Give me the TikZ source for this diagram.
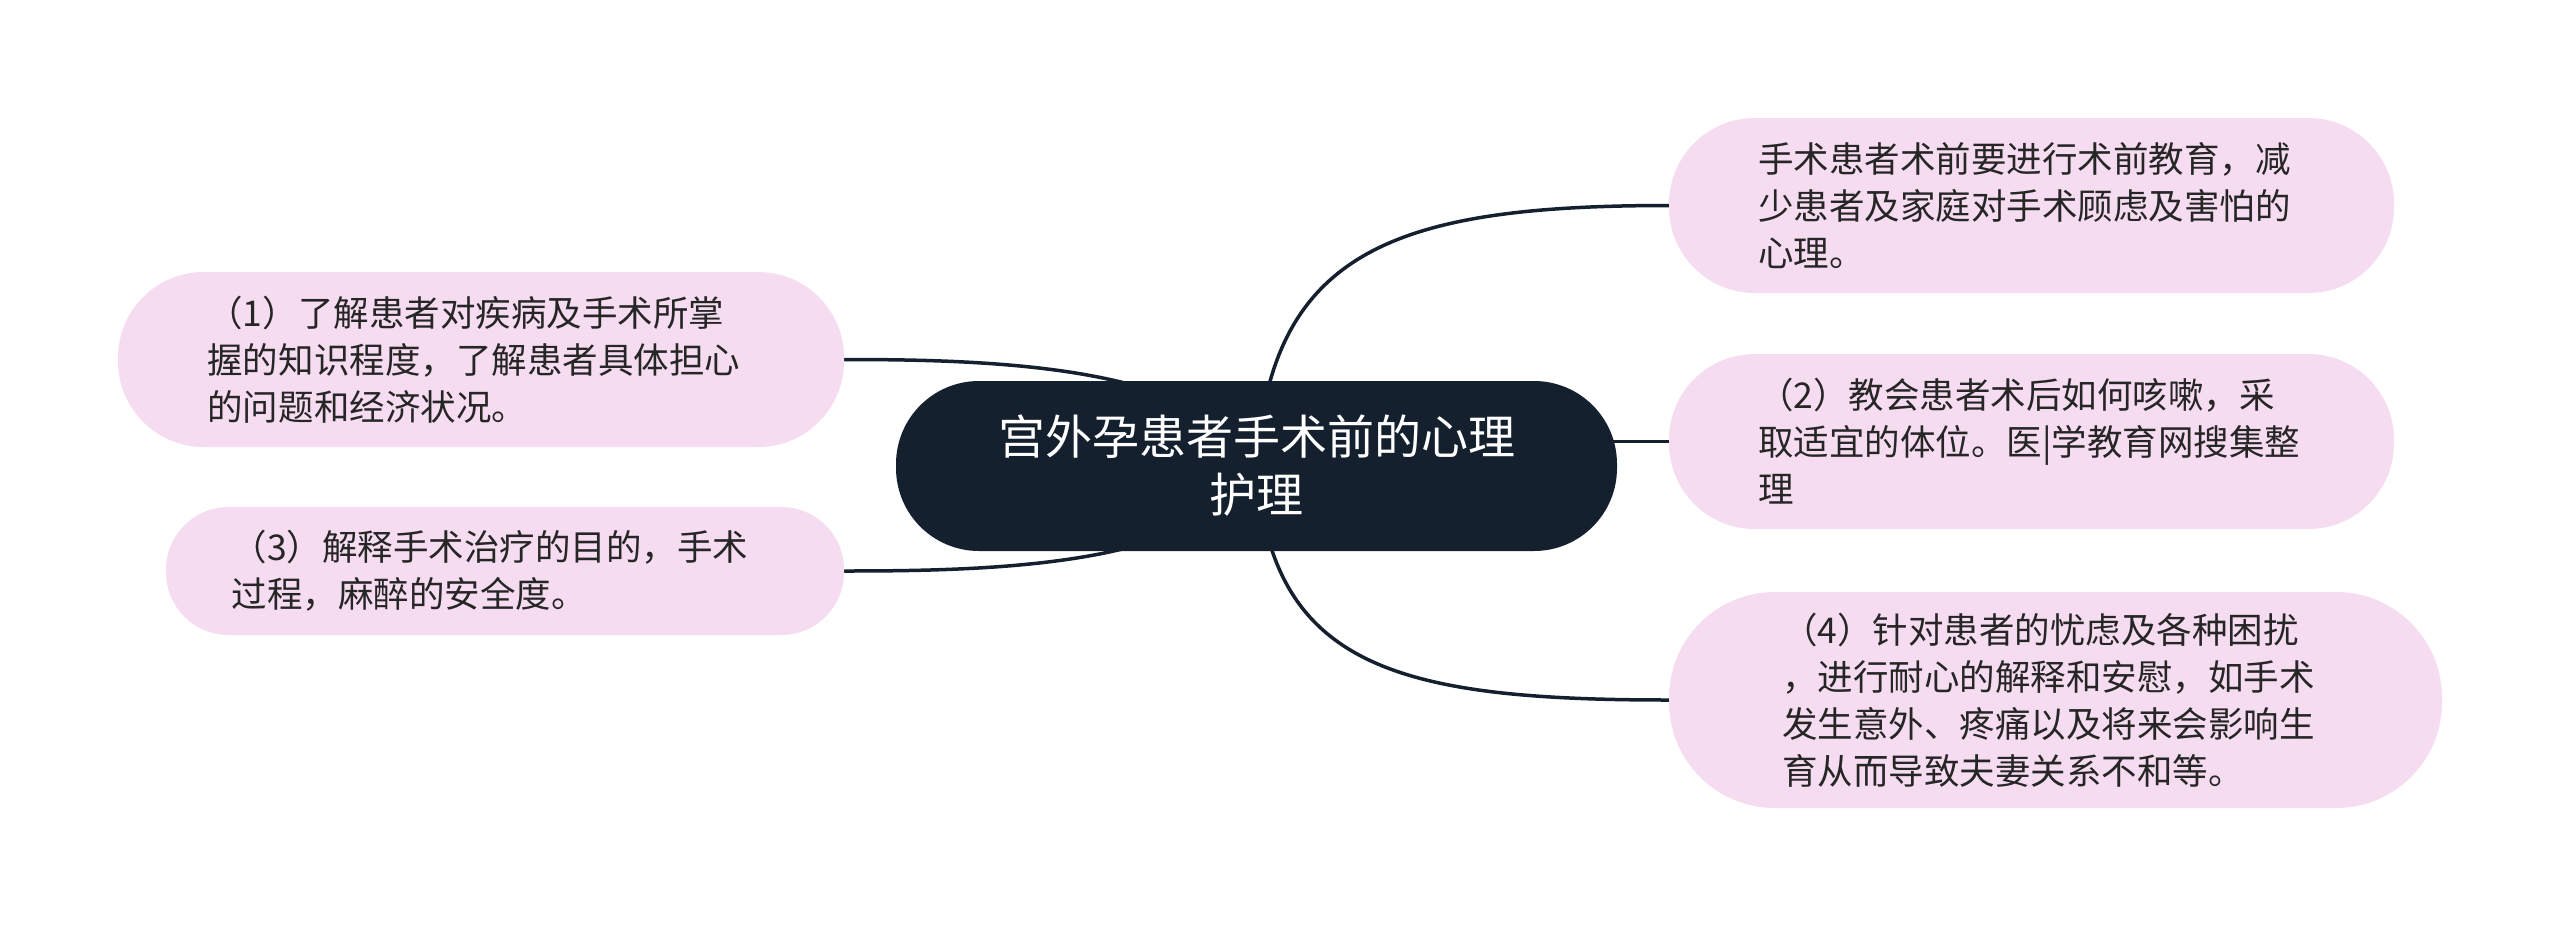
\documentclass[tikz,border=0pt]{standalone}
\usepackage{fontspec}
\setmainfont{Noto Sans CJK SC}
\usetikzlibrary{backgrounds}

\definecolor{navy}{HTML}{15202E}
\definecolor{petal}{HTML}{F6DCF0}
\definecolor{ink}{HTML}{262626}

\begin{document}
\begin{tikzpicture}[x=1bp,y=-1bp,
    root/.style={fill=navy,text=white,inner sep=0pt,align=center,
      minimum width=721bp,minimum height=170bp,rounded corners=83bp,
      font=\fontsize{47bp}{58bp}\selectfont},
    leaf/.style={fill=petal,text=ink,inner sep=0pt,align=left,text width=547bp,
      font=\fontsize{35.5bp}{47bp}\selectfont},
    pill/.style 2 args={minimum width=#1bp,minimum height=#2bp,
      rounded corners=#2bp*0.49},
    link/.style={draw=navy,line width=3.5bp}]

    % Central topic
    \node[root] (root) at (1256.5,466) {宫外孕患者手术前的心理\\护理};

    %% Left branches
    \node[leaf,pill={726}{175}] (grasp) at (481,359.5)
      {（1）了解患者对疾病及手术所掌\\握的知识程度，了解患者具体担心\\的问题和经济状况。};
    \node[leaf,pill={678}{128}] (explain) at (505,571)
      {（3）解释手术治疗的目的，手术\\过程，麻醉的安全度。};

    %% Right branches
    \node[leaf,pill={725}{175}] (brief) at (2031.5,205.5)
      {手术患者术前要进行术前教育，减\\少患者及家庭对手术顾虑及害怕的\\心理。};
    \node[leaf,pill={725}{175}] (cough) at (2031.5,441.5)
      {（2）教会患者术后如何咳嗽，采\\取适宜的体位。医|学教育网搜集整\\理};
    \node[leaf,pill={773}{216}] (comfort) at (2055.5,700)
      {（4）针对患者的忧虑及各种困扰\\，进行耐心的解释和安慰，如手术\\发生意外、疼痛以及将来会影响生\\育从而导致夫妻关系不和等。};

    %% Connectors, behind the nodes
    \begin{scope}[on background layer]
      \fill[white] (0,0) rectangle (2560,931);
      \draw[link] (root.center) .. controls +(-50,-100) and +(152,0) .. (grasp.east);
      \draw[link] (root.center) .. controls +(-50,100) and +(152,0) .. (explain.east);
      \draw[link] (root.center) .. controls +(14,-215) and +(-275,0) .. (brief.west);
      \draw[link] (cough.west -| root.center) -- (cough.west);
      \draw[link] (root.center) .. controls +(14,200) and +(-275,0) .. (comfort.west);
    \end{scope}

    \useasboundingbox (0,0) rectangle (2560,931);
\end{tikzpicture}
\end{document}
